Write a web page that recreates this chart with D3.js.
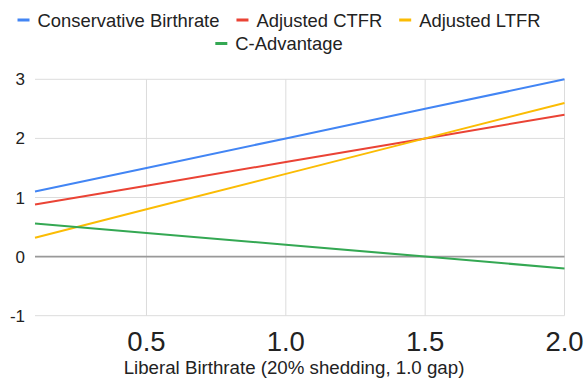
<!DOCTYPE html>
<html>
<head>
<meta charset="utf-8">
<script src="https://cdn.jsdelivr.net/npm/d3@7"></script>
<style>
  body { margin: 0; background: #fff; }
  svg { display: block; font-family: "Liberation Sans", Arial, sans-serif; }
</style>
</head>
<body>
<svg width="587" height="392"></svg>
<script>
// liberal birthrate on the x axis
const liberal = [0.1, 0.5, 1.0, 1.5, 2.0];

// series
const conservative = [1.1, 1.5, 2.0, 2.5, 3.0];
const adjCTFR = [0.88, 1.2, 1.6, 2.0, 2.4];
const adjLTFR = [0.32, 0.8, 1.4, 2.0, 2.6];
const cAdvantage = [0.56, 0.4, 0.2, 0.0, -0.2];

const seriesNames = ["Conservative Birthrate", "Adjusted CTFR", "Adjusted LTFR", "C-Advantage"];
const seriesValues = [conservative, adjCTFR, adjLTFR, cAdvantage];
const seriesColors = ["#4285f4", "#ea4335", "#fbbc04", "#34a853"];

const xTicks = [0.5, 1.0, 1.5, 2.0];
const yTicks = [-1, 0, 1, 2, 3];

const svg = d3.select("svg"),
      width = +svg.attr("width"),
      height = +svg.attr("height");

const x = d3.scaleLinear().domain([0.1, 2.0]).range([35, 564.5]);
const y = d3.scaleLinear().domain([-1, 3]).range([315.7, 79.3]);

// horizontal gridlines
svg.append("g")
  .selectAll("line")
  .data(yTicks)
  .enter().append("line")
  .attr("x1", x.range()[0]).attr("x2", x.range()[1])
  .attr("y1", d => y(d)).attr("y2", d => y(d))
  .attr("stroke", "#dcdcdc")
  .attr("stroke-width", 1);

// vertical gridlines
svg.append("g")
  .selectAll("line")
  .data(xTicks)
  .enter().append("line")
  .attr("x1", d => x(d)).attr("x2", d => x(d))
  .attr("y1", y(3)).attr("y2", y(-1))
  .attr("stroke", "#dcdcdc")
  .attr("stroke-width", 1);

// baseline at zero
svg.append("line")
  .attr("x1", x.range()[0]).attr("x2", x.range()[1])
  .attr("y1", y(0)).attr("y2", y(0))
  .attr("stroke", "#999")
  .attr("stroke-width", 1.6);

// y labels
svg.append("g")
  .selectAll("text")
  .data(yTicks)
  .enter().append("text")
  .attr("x", 25)
  .attr("y", d => y(d) + 6)
  .attr("text-anchor", "end")
  .attr("font-size", 17)
  .attr("fill", "#222")
  .text(d => d);

// x labels
svg.append("g")
  .selectAll("text")
  .data(xTicks)
  .enter().append("text")
  .attr("x", d => x(d))
  .attr("y", 351)
  .attr("text-anchor", "middle")
  .attr("font-size", 27.5)
  .attr("fill", "#222")
  .text(d => d3.format(".1f")(d));

// x axis title
svg.append("text")
  .attr("x", 294)
  .attr("y", 374)
  .attr("text-anchor", "middle")
  .attr("font-size", 18.7)
  .attr("fill", "#222")
  .text("Liberal Birthrate (20% shedding, 1.0 gap)");

// lines
const line = d3.line()
  .x((d, i) => x(liberal[i]))
  .y(d => y(d));

svg.append("g")
  .selectAll("path")
  .data(seriesValues)
  .enter().append("path")
  .attr("d", line)
  .attr("fill", "none")
  .attr("stroke", (d, i) => seriesColors[i])
  .attr("stroke-width", 2);

// legend, two centred rows
const legendRows = [[0, 1, 2], [3]];
const rowBaselines = [26.5, 50];
const legendCenter = 279;

legendRows.forEach((row, r) => {
  const g = svg.append("g");
  let cursor = 0;
  row.forEach((idx, k) => {
    if (k > 0) cursor += 17;
    g.append("rect")
      .attr("x", cursor)
      .attr("y", rowBaselines[r] - 8)
      .attr("width", 12)
      .attr("height", 3)
      .attr("fill", seriesColors[idx]);
    const t = g.append("text")
      .attr("x", cursor + 20)
      .attr("y", rowBaselines[r])
      .attr("font-size", 18.4)
      .attr("fill", "#222")
      .text(seriesNames[idx]);
    cursor += 20 + t.node().getComputedTextLength();
  });
  g.attr("transform", `translate(${legendCenter - cursor / 2},0)`);
});
</script>
</body>
</html>
